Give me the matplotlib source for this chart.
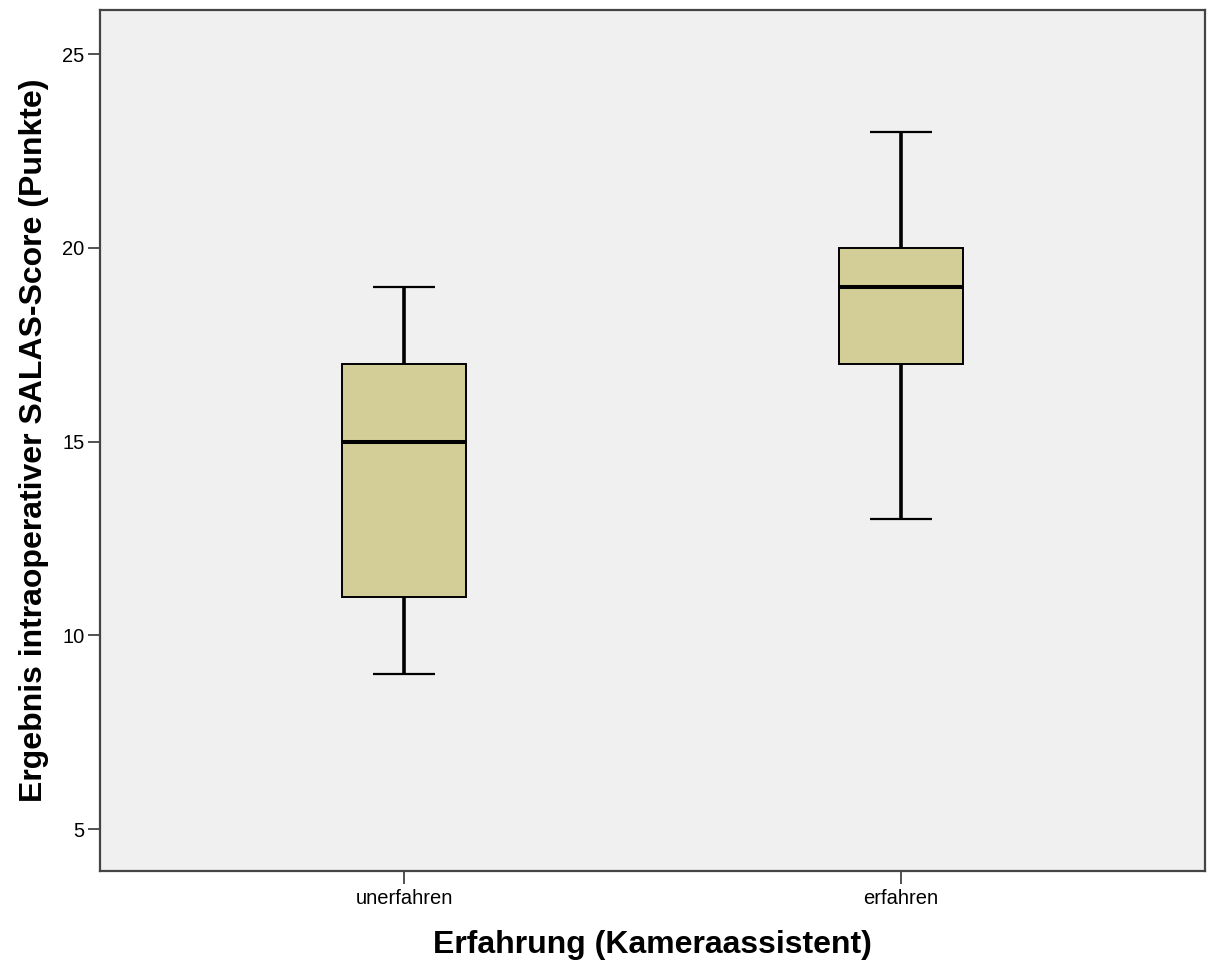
import matplotlib
matplotlib.use("Agg")
import matplotlib.pyplot as plt

plt.rcParams['font.family'] = ['Liberation Sans', 'DejaVu Sans']

# Kennwerte je Gruppe
groups = ["unerfahren", "erfahren"]
whislo = [9, 13]
q1 = [11, 17]
med = [15, 19]
q3 = [17, 20]
whishi = [19, 23]
yticks = [5, 10, 15, 20, 25]

stats = []
for i, g in enumerate(groups):
    stats.append(dict(label=g, whislo=whislo[i], q1=q1[i], med=med[i],
                      q3=q3[i], whishi=whishi[i], fliers=[]))

fig = plt.figure(figsize=(12.07, 9.64), dpi=100)
ax = fig.add_axes([0.0828, 0.0965, 0.9155, 0.8931])
ax.set_facecolor('#f0f0f0')

ax.bxp(stats, positions=[0, 1], widths=0.25, patch_artist=True,
       boxprops=dict(facecolor='#d3ce98', edgecolor='black', linewidth=1.4),
       medianprops=dict(color='black', linewidth=2.9, solid_capstyle='butt'),
       whiskerprops=dict(color='black', linewidth=2.6, solid_capstyle='butt'),
       capprops=dict(color='black', linewidth=1.6, solid_capstyle='butt'),
       capwidths=0.125)

ax.set_xlim(-0.612, 1.612)
ax.set_ylim(3.92, 26.14)
ax.set_yticks(yticks)
ax.set_xticks([0, 1])
ax.set_xticklabels(groups)

for s in ax.spines.values():
    s.set_color('#444444')
    s.set_linewidth(1.6)

ax.tick_params(axis='both', colors='#333333', labelsize=14.5, width=1.2, length=9, pad=2)
ax.tick_params(axis='both', labelcolor='black')
ax.tick_params(axis='x', pad=4)

ax.set_xlabel('Erfahrung (Kameraassistent)', fontsize=23, fontweight='bold', labelpad=16)
ax.set_ylabel('Ergebnis intraoperativer SALAS-Score (Punkte)', fontsize=23,
              fontweight='bold', labelpad=10)

fig.savefig('out.png', dpi=100)
